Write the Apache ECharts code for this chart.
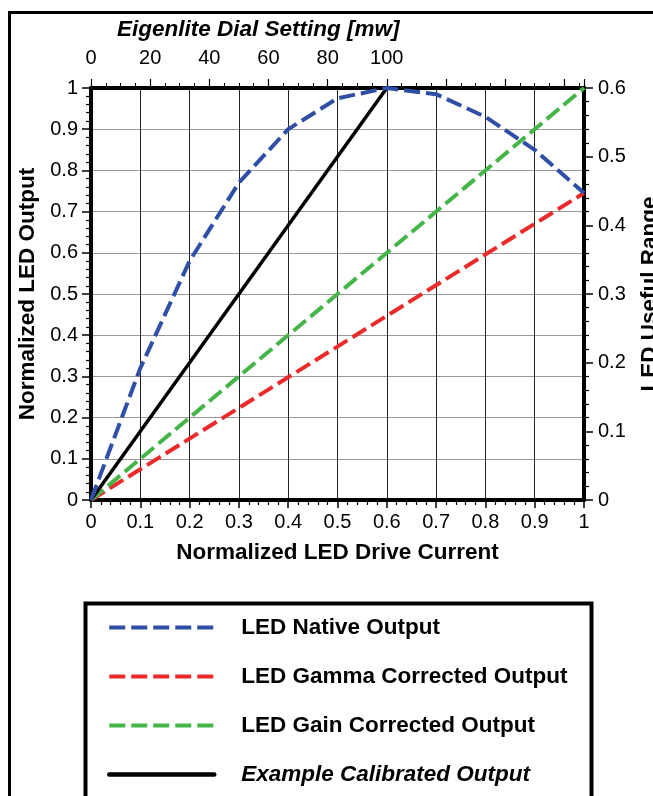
<!DOCTYPE html>
<html>
<head>
<meta charset="utf-8">
<script src="https://cdn.jsdelivr.net/npm/echarts@6/dist/echarts.min.js"></script>
<style>
  html, body { margin: 0; padding: 0; background: #fff; }
</style>
</head>
<body>
<div id="chart" style="width: 653px; height: 796px"></div>
<script>
// data
const driveCurrent = [0, 0.1, 0.2, 0.3, 0.4, 0.5, 0.6, 0.7, 0.8, 0.9, 1];
const nativeOutput = [0, 0.32, 0.58, 0.77, 0.9, 0.975, 1.0, 0.985, 0.93, 0.85, 0.745];
const gammaX = [0, 1];
const gammaOutput = [0, 0.745];
const gainX = [0, 1];
const gainOutput = [0, 1];
const calibratedX = [0, 0.6];
const calibratedOutput = [0, 1];
const seriesNames = [
  "LED Native Output",
  "LED Gamma Corrected Output",
  "LED Gain Corrected Output",
  "Example Calibrated Output",
];

const pair = (xs, ys) => xs.map((x, i) => [x, ys[i]]);
const font = "Liberation Sans, Arial, sans-serif";
const dash = [16, 6];

const myChart = echarts.init(document.getElementById("chart"));

const tickLabel = { color: "#000", fontSize: 20, fontFamily: font };
const axisName = { color: "#000", fontSize: 22.5, fontWeight: "bold", fontFamily: font };
const thickLine = { show: true, onZero: false, lineStyle: { color: "#000", width: 4 } };

const options = {
  animation: false,
  backgroundColor: "#fff",
  title: {
    text: "{b|Eigenlite Dial Setting [}{i|mw}{b|]}",
    left: 117,
    top: 18,
    padding: 0,
    textStyle: {
      rich: {
        b: { fontSize: 22.5, fontWeight: "bold", fontStyle: "italic", fontFamily: font, color: "#000" },
        i: { fontSize: 22.5, fontStyle: "italic", fontFamily: font, color: "#000" },
      },
    },
  },
  grid: { left: 91, right: 69, top: 88, bottom: 296, outerBoundsMode: "none" },
  legend: {
    orient: "vertical",
    left: 107,
    top: 616,
    padding: 0,
    itemWidth: 105,
    itemHeight: 14,
    itemGap: 26,
    itemStyle: { opacity: 0 },
    textStyle: { color: "#000", fontSize: 22.5, fontWeight: "bold", fontFamily: font, padding: [0, 0, 0, 22] },
    data: [
      { name: seriesNames[0], lineStyle: { width: 4 } },
      { name: seriesNames[1], lineStyle: { width: 4 } },
      { name: seriesNames[2], lineStyle: { width: 4 } },
      { name: seriesNames[3], lineStyle: { width: 4.5, cap: "round" }, textStyle: { fontStyle: "italic" } },
    ],
  },
  xAxis: [
    {
      type: "value",
      position: "bottom",
      min: 0,
      max: 1,
      interval: 0.1,
      name: "Normalized LED Drive Current",
      nameLocation: "middle",
      nameGap: 41,
      nameTextStyle: axisName,
      axisLine: thickLine,
      axisTick: { show: true, length: 8, lineStyle: { color: "#000", width: 1.5 } },
      minorTick: { show: true, splitNumber: 5, length: 5, lineStyle: { color: "#000", width: 1.2 } },
      axisLabel: Object.assign({ margin: 12, formatter: (v) => String(+v.toFixed(1)) }, tickLabel),
      splitLine: { show: true, lineStyle: { color: "#222", width: 1 } },
    },
    {
      type: "value",
      position: "top",
      min: 0,
      max: 500 / 3,
      interval: 20,
      axisLine: thickLine,
      axisTick: { show: true, length: 9, lineStyle: { color: "#000", width: 1.2 } },
      minorTick: { show: true, splitNumber: 4, length: 5, lineStyle: { color: "#000", width: 1 } },
      axisLabel: Object.assign(
        { margin: 20, showMaxLabel: false, formatter: (v) => (v <= 100 ? String(Math.round(v)) : "") },
        tickLabel
      ),
      splitLine: { show: false },
    },
  ],
  yAxis: [
    {
      type: "value",
      position: "left",
      min: 0,
      max: 1,
      interval: 0.1,
      name: "Normalized LED Output",
      nameLocation: "middle",
      nameGap: 51,
      nameTextStyle: axisName,
      axisLine: thickLine,
      axisTick: { show: true, length: 9, lineStyle: { color: "#000", width: 1.5 } },
      minorTick: { show: true, splitNumber: 5, length: 5, lineStyle: { color: "#000", width: 1.2 } },
      axisLabel: Object.assign({ margin: 13, formatter: (v) => String(+v.toFixed(1)) }, tickLabel),
      splitLine: { show: true, lineStyle: { color: "#999", width: 1 } },
    },
    {
      type: "value",
      position: "right",
      min: 0,
      max: 0.6,
      interval: 0.1,
      name: "LED Useful Range",
      nameLocation: "middle",
      nameGap: 54,
      nameRotate: 90,
      nameTextStyle: axisName,
      axisLine: thickLine,
      axisTick: { show: true, length: 9, lineStyle: { color: "#000", width: 1.5 } },
      minorTick: { show: true, splitNumber: 5, length: 5, lineStyle: { color: "#000", width: 1.2 } },
      axisLabel: Object.assign({ margin: 14, formatter: (v) => String(+v.toFixed(1)) }, tickLabel),
      splitLine: { show: false },
    },
  ],
  series: [
    {
      name: seriesNames[0],
      type: "line",
      symbol: "none",
      data: pair(driveCurrent, nativeOutput),
      color: "#2e4fa5",
      lineStyle: { color: "#2e4fa5", width: 4, type: dash },
      z: 4,
    },
    {
      name: seriesNames[1],
      type: "line",
      symbol: "none",
      data: pair(gammaX, gammaOutput),
      color: "#ea2a2b",
      lineStyle: { color: "#ea2a2b", width: 4, type: dash },
      z: 3,
    },
    {
      name: seriesNames[2],
      type: "line",
      symbol: "none",
      data: pair(gainX, gainOutput),
      color: "#46b549",
      lineStyle: { color: "#46b549", width: 4, type: dash },
      z: 3,
    },
    {
      name: seriesNames[3],
      type: "line",
      symbol: "none",
      data: pair(calibratedX, calibratedOutput),
      color: "#000",
      lineStyle: { color: "#000", width: 3.5 },
      z: 3,
    },
  ],
  graphic: [
    {
      type: "rect",
      left: 7,
      top: 10,
      shape: { width: 700, height: 900 },
      style: { fill: "none", stroke: "#000", lineWidth: 3 },
      silent: true,
    },
    {
      type: "rect",
      left: 83,
      top: 601,
      shape: { width: 506, height: 300 },
      style: { fill: "none", stroke: "#000", lineWidth: 4 },
      silent: true,
    },
  ],
};

myChart.setOption(options);
</script>
</body>
</html>
